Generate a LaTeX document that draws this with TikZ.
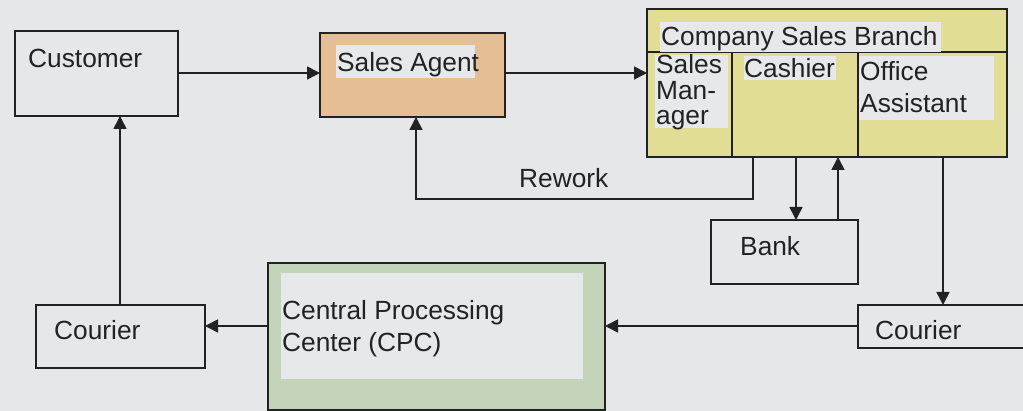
\documentclass[tikz,border=0pt]{standalone}
\usepackage{fontspec}
\setmainfont{Liberation Sans}
\usetikzlibrary{arrows.meta}
\definecolor{bg}{HTML}{E6E7E9}
\definecolor{hl}{HTML}{E7E8EA}
\definecolor{agentfill}{HTML}{E5BE93}
\definecolor{csbfill}{HTML}{E1DD95}
\definecolor{cpcfill}{HTML}{C3D4BA}
\definecolor{ink}{HTML}{222222}
\begin{document}
\begin{tikzpicture}[x=1pt,y=-1pt,
  box/.style={draw=ink,line width=1.6pt,anchor=north west,inner sep=0pt,outer sep=0pt},
  lbl/.style={anchor=base west,inner sep=0pt,text=ink,font=\fontsize{26.3}{30}\selectfont},
  arr/.style={draw=ink,line width=1.6pt,-{Triangle[length=13pt,width=13pt]}},
  ln/.style={draw=ink,line width=1.6pt}]
\useasboundingbox (0,0) rectangle (1023,411);
\fill[bg] (0,0) rectangle (1023,411);
% boxes
\node[box,fill=bg,minimum width=163pt,minimum height=85pt] (cust) at (15,31) {};
\node[box,fill=agentfill,minimum width=185pt,minimum height=84pt] (agent) at (320,33) {};
\node[box,fill=csbfill,minimum width=360pt,minimum height=148pt] (csb) at (647,9) {};
\node[box,fill=bg,minimum width=147pt,minimum height=64pt] (bank) at (711,220) {};
\node[box,fill=bg,minimum width=180pt,minimum height=43pt] (cour2) at (858,305) {};
\node[box,fill=bg,minimum width=169pt,minimum height=63pt] (cour1) at (36,305) {};
\node[box,fill=cpcfill,minimum width=337pt,minimum height=147pt] (cpc) at (268,263) {};
% company internal divisions
\draw[ln] (csb.west |- 0,52) -- (csb.east |- 0,52);
\draw[ln] (732,52) -- (csb.south -| 732,0);
\draw[ln] (858,52) -- (csb.south -| 858,0);
% highlight rectangles
\fill[hl] (336,45) rectangle (475,78);
\fill[hl] (660,22) rectangle (941,52);
\fill[hl] (655,55) rectangle (728,128);
\fill[hl] (744,56) rectangle (836,80);
\fill[hl] (859,56) rectangle (994,120);
\fill[hl] (281,273) rectangle (583,379);
% labels
\node[lbl] (tcust) at (28,68) {Customer};
\node[lbl] (tagent) at (337,72) {Sales Agent};
\node[lbl] (tcsb) at (661,46) {Company Sales Branch};
\node[lbl] (tsm1) at (656,74) {Sales};
\node[lbl] (tsm2) at (656,100) {Man-};
\node[lbl] (tsm3) at (656,125) {ager};
\node[lbl] (tcash) at (744,78) {Cashier};
\node[lbl] (toa1) at (860,81) {Office};
\node[lbl] (toa2) at (860,113) {Assistant};
\node[lbl] (trew) at (519,188) {Rework};
\node[lbl] (tbank) at (740,256) {Bank};
\node[lbl] (tcour2) at (875,340) {Courier};
\node[lbl] (tcour1) at (54,340) {Courier};
\node[lbl] (tcpc1) at (282,320) {Central Processing};
\node[lbl] (tcpc2) at (282,352) {Center (CPC)};
% connectors
\draw[arr] (cust.east |- 0,73) -- (agent.west |- 0,73);
\draw[arr] (agent.east |- 0,73) -- (csb.west |- 0,73);
\draw[arr] (csb.south -| 753,0) -- (753,199) -- (416,199) -- (agent.south -| 416,0);
\draw[arr] (csb.south -| 796,0) -- (bank.north -| 796,0);
\draw[arr] (bank.north -| 838,0) -- (csb.south -| 838,0);
\draw[arr] (csb.south -| 943,0) -- (cour2.north -| 943,0);
\draw[arr] (cour2.west |- 0,326) -- (cpc.east |- 0,326);
\draw[arr] (cpc.west |- 0,326) -- (cour1.east |- 0,326);
\draw[arr] (cour1.north -| 120,0) -- (cust.south -| 120,0);
\end{tikzpicture}
\end{document}
